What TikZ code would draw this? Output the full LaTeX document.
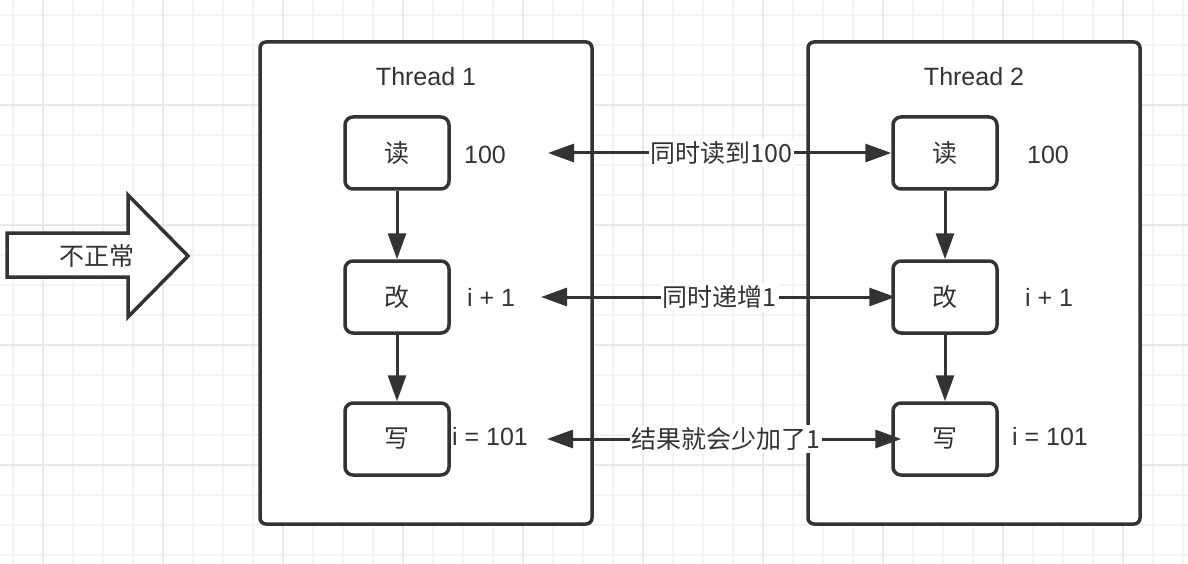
\documentclass[tikz,border=0pt]{standalone}
\usepackage{fontspec}
\setmainfont{Liberation Sans}
\newfontfamily\cjk{Noto Sans CJK SC}
\usetikzlibrary{arrows.meta}
\definecolor{ink}{HTML}{333333}
\definecolor{gminor}{HTML}{F3F3F3}
\definecolor{gmajor}{HTML}{E8E8E8}
\begin{document}
\begin{tikzpicture}[x=1pt,y=-1pt,
  container/.style={draw=ink, line width=3.5pt, fill=white, rounded corners=6pt,
    minimum width=332pt, minimum height=482pt, inner sep=0pt},
  stepbox/.style={draw=ink, line width=3.5pt, fill=white, rounded corners=8pt,
    minimum width=104pt, minimum height=72pt, inner sep=0pt,
    font=\cjk\fontsize{25}{30}\selectfont, text=ink},
  title/.style={font=\fontsize{25}{30}\selectfont, text=ink, inner sep=0pt},
  val/.style={font=\fontsize{25}{30}\selectfont, text=ink, inner sep=0pt},
  lab/.style={font=\cjk\fontsize{25}{30}\selectfont, text=ink, fill=white, inner sep=2pt},
  conn/.style={draw=ink, line width=3pt, -{Triangle[length=26pt,width=18pt]}},
  dbl/.style={draw=ink, line width=3pt, {Triangle[length=26pt,width=18pt]}-{Triangle[length=26pt,width=18pt]}}
]
\useasboundingbox (0,0) rectangle (1188,564);
\fill[white] (0,0) rectangle (1188,564);
% grid
\foreach \x in {13,43,...,1183} \draw[gminor, line width=1.2pt] (\x,0) -- (\x,564);
\foreach \y in {15,45,...,555} \draw[gminor, line width=1.2pt] (0,\y) -- (1188,\y);
\foreach \x in {43,163,...,1123} \draw[gmajor, line width=1.4pt] (\x,0) -- (\x,564);
\foreach \y in {105,225,345,465} \draw[gmajor, line width=1.4pt] (0,\y) -- (1188,\y);

% big arrow
\draw[ink, line width=3.5pt, fill=white, line join=miter]
  (7,233) -- (128,233) -- (128,195) -- (188,256) -- (128,317) -- (128,277) -- (7,277) -- cycle;
\node[font=\cjk\fontsize{25}{30}\selectfont, text=ink, inner sep=0pt] (bad) at (97,256) {不正常};

% containers
\node[container] (T1) at (426,283) {};
\node[container] (T2) at (974,283) {};
\node[title] (t1) at (426,77) {Thread 1};
\node[title] (t2) at (974,77) {Thread 2};

% step boxes
\node[stepbox] (L1) at (397,153) {读};
\node[stepbox] (L2) at (397,297) {改};
\node[stepbox] (L3) at (397,439) {写};
\node[stepbox] (R1) at (945,153) {读};
\node[stepbox] (R2) at (945,297) {改};
\node[stepbox] (R3) at (945,439) {写};

% values
\node[val] (vl1) at (485,155) {100};
\node[val] (vl2) at (491,297) {i + 1};
\node[val] (vl3) at (490,437) {i = 101};
\node[val] (vr1) at (1048,155) {100};
\node[val] (vr2) at (1049,297) {i + 1};
\node[val] (vr3) at (1050,437) {i = 101};

% vertical arrows
\draw[conn] (L1) -- (L2);
\draw[conn] (L2) -- (L3);
\draw[conn] (R1) -- (R2);
\draw[conn] (R2) -- (R3);

% horizontal double arrows
\coordinate (a1) at (548,153);
\coordinate (a2) at (541,297);
\coordinate (a3) at (547,439);
\draw[dbl] (a1) -- (R1.west) node[pos=0.505, lab] (m1) {同时读到100};
\draw[dbl, shorten >=-4pt] (a2) -- (R2.west) node[pos=0.51, lab] (m2) {同时递增1};
\draw[dbl, shorten >=-10pt] (a3) -- (R3.west) node[pos=0.52, lab] (m3) {结果就会少加了1};
\end{tikzpicture}
\end{document}
